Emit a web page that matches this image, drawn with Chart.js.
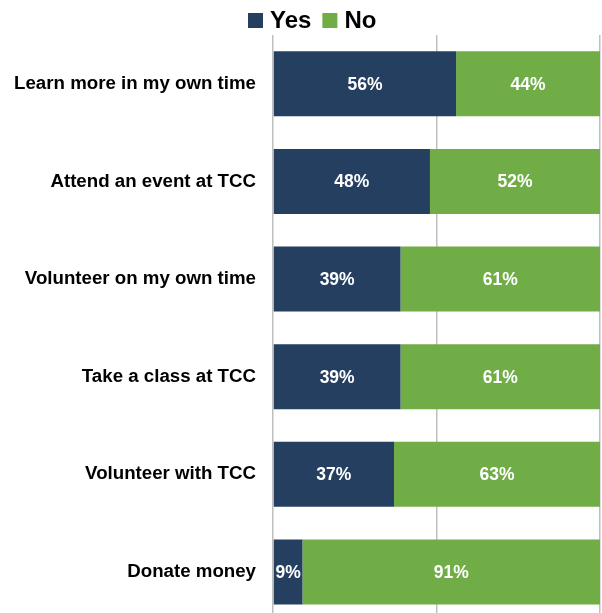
<!DOCTYPE html>
<html>
<head>
<meta charset="utf-8">
<script src="https://cdn.jsdelivr.net/npm/chart.js@4/dist/chart.umd.min.js"></script>
<style>
  html, body { margin: 0; padding: 0; background: #ffffff; overflow: hidden; }
  #wrap { position: relative; width: 602px; height: 649px; }
</style>
</head>
<body>
<div id="wrap"><canvas id="chart" width="602" height="649"></canvas></div>
<script>
// Survey activities and the share answering Yes / No
const categories = [
  'Learn more in my own time',
  'Attend an event at TCC',
  'Volunteer on my own time',
  'Take a class at TCC',
  'Volunteer with TCC',
  'Donate money'
];
const seriesNames = ['Yes', 'No'];
const yesValues = [56, 48, 39, 39, 37, 9];
const noValues = [44, 52, 61, 61, 63, 91];
const xTicks = [0, 50, 100];

const NAVY = '#243F60';
const GREEN = '#70AD47';
const FONT = "'Liberation Sans', Arial, sans-serif";

// White percentage labels centred in each bar segment
const segmentLabels = {
  id: 'segmentLabels',
  afterDatasetsDraw(chart) {
    const ctx = chart.ctx;
    ctx.save();
    ctx.fillStyle = '#ffffff';
    ctx.font = 'bold 17.5px ' + FONT;
    ctx.textAlign = 'center';
    ctx.textBaseline = 'middle';
    chart.data.datasets.forEach((ds, di) => {
      const meta = chart.getDatasetMeta(di);
      meta.data.forEach((el, i) => {
        const p = el.getCenterPoint();
        ctx.fillText(ds.data[i] + '%', p.x, p.y + 1);
      });
    });
    ctx.restore();
  }
};

// Legend row above the plot: square swatch followed by series name
const topLegend = {
  id: 'topLegend',
  afterDraw(chart) {
    const ctx = chart.ctx;
    ctx.save();
    ctx.font = 'bold 24px ' + FONT;
    ctx.textBaseline = 'middle';
    ctx.textAlign = 'left';
    const box = 15, gap = 7, between = 11;
    let x = 248;
    const cy = 20.5;
    chart.data.datasets.forEach((ds) => {
      ctx.fillStyle = ds.backgroundColor;
      ctx.fillRect(x, cy - box / 2, box, box);
      x += box + gap;
      ctx.fillStyle = '#000000';
      ctx.fillText(ds.label, x, cy + 1);
      x += ctx.measureText(ds.label).width + between;
    });
    ctx.restore();
  }
};

new Chart(document.getElementById('chart'), {
  type: 'bar',
  data: {
    labels: categories,
    datasets: [
      { label: seriesNames[0], data: yesValues, backgroundColor: NAVY },
      { label: seriesNames[1], data: noValues, backgroundColor: GREEN }
    ]
  },
  options: {
    indexAxis: 'y',
    responsive: false,
    animation: false,
    devicePixelRatio: 1,
    layout: { padding: { top: 35, right: 2, left: 0, bottom: 0 } },
    datasets: {
      bar: { categoryPercentage: 1, barPercentage: 0.665, borderWidth: 0 }
    },
    scales: {
      x: {
        stacked: true,
        min: 0,
        max: 100,
        afterBuildTicks(scale) { scale.ticks = xTicks.map(v => ({ value: v })); },
        afterFit(scale) { scale.height = 0; },
        ticks: { display: false },
        grid: { color: '#BFBFBF', lineWidth: 1.5, drawTicks: false },
        border: { display: false }
      },
      y: {
        stacked: true,
        afterFit(scale) { scale.width = 273; },
        grid: { display: false, drawTicks: false },
        border: { display: false },
        ticks: {
          color: '#000000',
          padding: 17,
          font: { family: FONT, size: 18.7, weight: 'bold' }
        }
      }
    },
    plugins: {
      legend: { display: false },
      tooltip: { enabled: false }
    }
  },
  plugins: [segmentLabels, topLegend]
});
</script>
</body>
</html>
